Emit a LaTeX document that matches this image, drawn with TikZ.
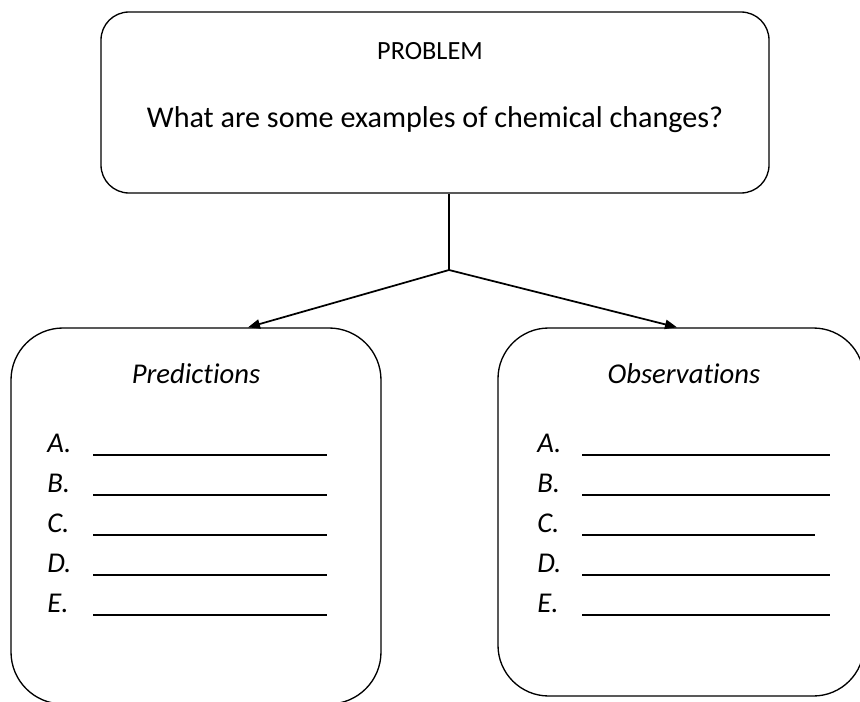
\documentclass[tikz,border=0pt]{standalone}
\usepackage{fontspec}
\setmainfont{Carlito}[Ligatures=NoCommon]
\usetikzlibrary{arrows.meta}
\begin{document}
\begin{tikzpicture}[x=0.75pt,y=-0.75pt,
  box/.style={draw, line width=1pt, rectangle, inner sep=0pt},
  conn/.style={line width=1.3pt, -{Triangle[length=9pt,width=7pt]}},
  stem/.style={line width=1pt},
  head/.style={anchor=base, inner sep=0pt, font=\fontsize{21.5}{26}\selectfont\itshape},
  item/.style={anchor=base west, inner sep=0pt, font=\fontsize{21.5}{26}\selectfont\itshape},
  blank/.style={line width=1.1pt}]
\useasboundingbox (0,0) rectangle (860,702);
% boxes
\node[box, rounded corners=21pt, minimum width=501pt, minimum height=135.75pt] (top) at (435,102.5) {};
\node[box, rounded corners=39pt, minimum width=277.5pt, minimum height=282pt] (left) at (196,516) {};
\node[box, rounded corners=38pt, minimum width=274.5pt, minimum height=276pt] (right) at (681,512) {};
% top texts
\node[anchor=base, inner sep=0pt, font=\fontsize{19.7}{24}\selectfont] (ptitle) at (430,60) {PROBLEM};
\node[anchor=base, inner sep=0pt, font=\fontsize{22.6}{27}\selectfont] (pq) at (435,128) {What are some examples of chemical changes?};
% connectors
\coordinate (j) at (449,270);
\coordinate (tl) at (248,328);
\coordinate (tr) at (677,328);
\draw[stem] (top.south -| j) -- (j);
\draw[conn] (j) -- (left.north -| tl);
\draw[conn] (j) -- (right.north -| tr);
% headings
\node[head] (hl) at (196,383) {Predictions};
\node[head] (hr) at (684,383) {Observations};
% left items
\foreach \l [count=\i from 0] in {A,B,C,D,E}{
  \node[item] (l\l) at (47,452+40*\i) {\l.};
  \draw[blank] (93,455+40*\i) -- (327,455+40*\i);
}
% right items
\foreach \l [count=\i from 0] in {A,B,C,D,E}{
  \node[item] (r\l) at (537,452+40*\i) {\l.};
}
\draw[blank] (582,455) -- (830,455);
\draw[blank] (582,495) -- (830,495);
\draw[blank] (582,535) -- (815,535);
\draw[blank] (582,575) -- (830,575);
\draw[blank] (582,615) -- (830,615);
\end{tikzpicture}
\end{document}
